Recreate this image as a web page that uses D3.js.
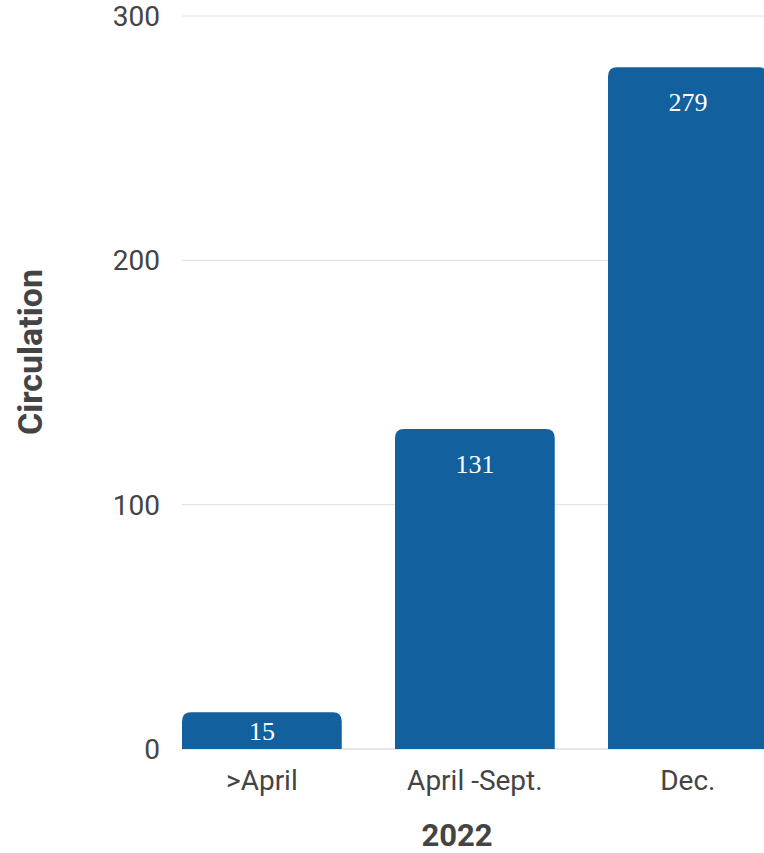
<!DOCTYPE html>
<html><head><meta charset="utf-8">
<script src="https://cdn.jsdelivr.net/npm/d3@7"></script>
<style>html,body{margin:0;padding:0;background:#fff;overflow:hidden}</style>
</head><body><svg id="c" width="764" height="853"></svg>
<script>
const categories = [">April", "April -Sept.", "Dec."];
const values = [15, 131, 279];
const yTicks = [0, 100, 200, 300];
const xTitle = "2022";
const yTitle = "Circulation";

const svg = d3.select("#c");
const W = 764, H = 853;
const plotLeft = 182, plotTop = 16, plotBottom = 749;
const step = 213;
const x = d3.scaleBand().domain(categories)
  .range([plotLeft - step*0.125, plotLeft - step*0.125 + step*3]).paddingInner(0.25).paddingOuter(0.125);
const y = d3.scaleLinear().domain([0, 300]).range([plotBottom, plotTop]);

// gridlines
svg.append("g").selectAll("line").data(yTicks).join("line")
  .attr("x1", plotLeft).attr("x2", W).attr("y1", d => y(d)).attr("y2", d => y(d))
  .attr("stroke", d => d === 0 ? "#d0d0d0" : "#e0e0e0").attr("stroke-width", 1);

// y tick labels
svg.append("g").selectAll("text").data(yTicks).join("text")
  .attr("x", 160).attr("y", d => y(d) + 10)
  .attr("text-anchor", "end")
  .attr("font-family", "Roboto").attr("font-size", 28).attr("fill", "#444")
  .text(d => d);

// bars with rounded top corners
const r = 9;
function barPath(d, i) {
  const x0 = x(categories[i]), w = x.bandwidth(), y0 = y(d), yb = y(0);
  return `M${x0},${yb}V${y0 + r}Q${x0},${y0} ${x0 + r},${y0}H${x0 + w - r}Q${x0 + w},${y0} ${x0 + w},${y0 + r}V${yb}Z`;
}
svg.append("g").selectAll("path").data(values).join("path")
  .attr("d", barPath).attr("fill", "#12609e");

// value labels
svg.append("g").selectAll("text").data(values).join("text")
  .attr("x", (d, i) => x(categories[i]) + x.bandwidth() / 2)
  .attr("y", d => {
    const h = y(0) - y(d);
    return h < 60 ? (y(d) + y(0)) / 2 + 9 : y(d) + 44;
  })
  .attr("text-anchor", "middle")
  .attr("font-family", "Liberation Serif, serif").attr("font-size", 26).attr("fill", "#fff")
  .text(d => d);

// x tick labels
svg.append("g").selectAll("text").data(categories).join("text")
  .attr("x", d => x(d) + x.bandwidth() / 2).attr("y", 790)
  .attr("text-anchor", "middle")
  .attr("font-family", "Roboto").attr("font-size", 28).attr("fill", "#444")
  .text(d => d);

// axis titles
svg.append("text").attr("x", 457).attr("y", 846).attr("text-anchor", "middle")
  .attr("font-family", "Roboto").attr("font-weight", "bold").attr("font-size", 31).attr("fill", "#444")
  .text(xTitle);
svg.append("text").attr("transform", "translate(42,352) rotate(-90)").attr("text-anchor", "middle")
  .attr("font-family", "Roboto").attr("font-weight", "bold").attr("font-size", 34).attr("fill", "#444")
  .text(yTitle);
</script></body></html>
